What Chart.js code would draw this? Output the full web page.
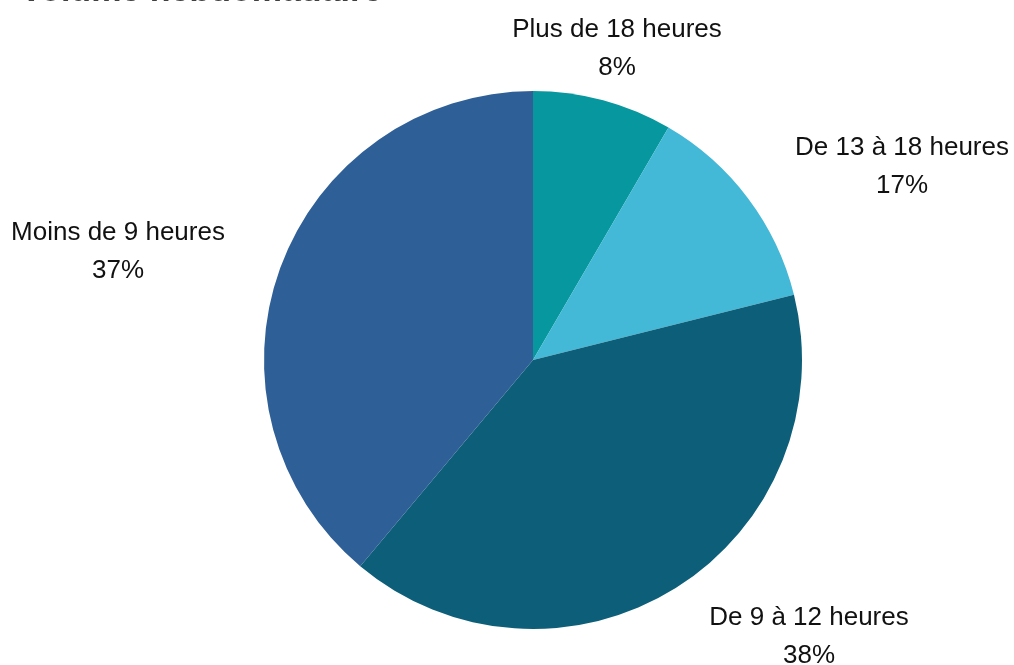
<!DOCTYPE html>
<html lang="fr">
<head>
<meta charset="utf-8">
<script src="https://cdn.jsdelivr.net/npm/chart.js@4/dist/chart.umd.min.js"></script>
<style>
  html, body { margin: 0; padding: 0; background: #fff; }
  #wrap { width: 1014px; height: 665px; position: relative; }
</style>
</head>
<body>
<div id="wrap"><canvas id="pie"></canvas></div>
<script>
'use strict';

// ── Data ────────────────────────────────────────────────────────────────────

const categories = ['Plus de 18 heures', 'De 13 à 18 heures', 'De 9 à 12 heures', 'Moins de 9 heures'];
// slice sizes as drawn in the picture (share of the circle, %)
const sliceValues = [8.4, 12.7, 40.0, 38.9];
// percentages printed in the labels
const pctLabels = ['8%', '17%', '38%', '37%'];
const titleText = 'Volume hebdomadaire';

// ── Style ───────────────────────────────────────────────────────────────────

const COLORS = ['#06979f', '#43b8d7', '#0d5e78', '#2e5f97'];
const FONT = '26px "Liberation Sans", Arial, sans-serif';
const LINE_GAP = 38;

// label anchor (centre x, first baseline y) per slice
const labelAnchor = [
  { x: 617, y: 37 },
  { x: 902, y: 155 },
  { x: 809, y: 625 },
  { x: 118, y: 240 },
];

const labelPlugin = {
  id: 'sliceLabels',
  afterDraw(chart) {
    const ctx = chart.ctx;
    ctx.save();
    ctx.font = FONT;
    ctx.fillStyle = '#111';
    ctx.textAlign = 'center';
    ctx.textBaseline = 'alphabetic';
    chart.getDatasetMeta(0).data.forEach((arc, i) => {
      const a = labelAnchor[i];
      ctx.fillText(categories[i], a.x, a.y);
      ctx.fillText(pctLabels[i], a.x, a.y + LINE_GAP);
    });
    // title, almost entirely above the visible frame
    ctx.font = 'bold 34px "Liberation Sans", Arial, sans-serif';
    ctx.fillStyle = '#404040';
    ctx.textAlign = 'left';
    ctx.fillText(titleText, 20, 1);
    ctx.restore();
  },
};

new Chart(document.getElementById('pie'), {
  type: 'pie',
  data: {
    labels: categories,
    datasets: [{
      data: sliceValues,
      backgroundColor: COLORS,
      borderWidth: 0,
    }],
  },
  options: {
    responsive: true,
    maintainAspectRatio: false,
    animation: false,
    layout: { padding: { top: 91, bottom: 36, left: 264, right: 212 } },
    plugins: {
      legend: { display: false },
      tooltip: { enabled: false },
    },
  },
  plugins: [labelPlugin],
});
</script>
</body>
</html>
